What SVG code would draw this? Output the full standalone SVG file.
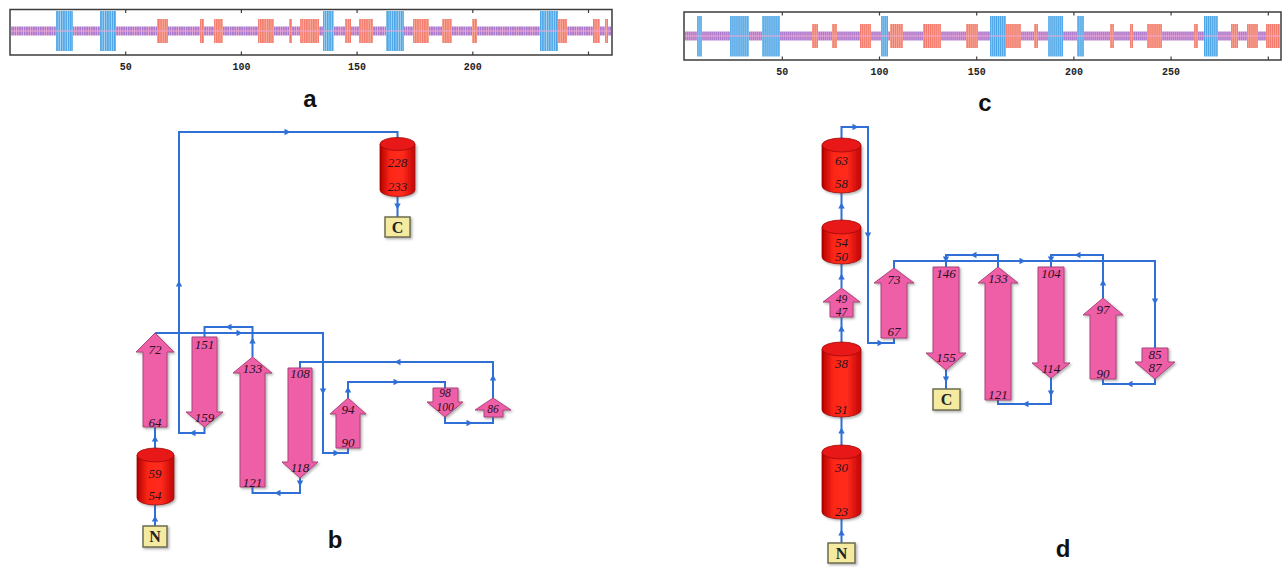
<svg xmlns="http://www.w3.org/2000/svg" xmlns:xlink="http://www.w3.org/1999/xlink" width="1285" height="567" viewBox="0 0 1285 567">
  <style>
    .frame { fill: #ffffff; stroke: #3c3c3c; stroke-width: 1.5; }
    .tick { stroke: #3c3c3c; stroke-width: 1.2; }
    .ticklbl { font-family: "Liberation Mono", monospace; font-weight: bold; font-size: 10px; fill: #222; text-anchor: middle; }
    .panel { font-family: "Liberation Sans", Arial, sans-serif; font-weight: bold; font-size: 24px; fill: #111; text-anchor: middle; }
    .strand { fill: #ef5fa8; stroke: #a9457a; stroke-width: 1; filter: url(#shadow); }
    .helix { fill: url(#cyl); stroke: #9a0a0a; stroke-width: 0.8; filter: url(#shadow); }
    .cap { fill: #e81818; stroke: #a00808; stroke-width: 0.8; }
    .term { fill: #f4eaa0; stroke: #6e6e50; stroke-width: 1.5; filter: url(#shadow); }
    .termlbl { font-family: "Liberation Serif", "Times New Roman", serif; font-weight: bold; font-size: 16px; fill: #222; text-anchor: middle; }
    .num { font-family: "Liberation Serif", "Times New Roman", serif; font-style: italic; font-size: 13px; fill: #2a1020; text-anchor: middle; }
    .num.small { font-size: 11.5px; }
    .link { fill: none; stroke: #2f6fd6; stroke-width: 2; stroke-linejoin: miter; }
    .ah { fill: #2f6fd6; }
    .midline { stroke: #f2a6d4; stroke-width: 1; }
  </style>
  <defs>
    <filter id="shadow" x="-20%" y="-20%" width="150%" height="150%">
      <feDropShadow dx="1.5" dy="1.5" stdDeviation="1" flood-color="#555" flood-opacity="0.45"/>
    </filter>
    <linearGradient id="cyl" x1="0" y1="0" x2="1" y2="0">
      <stop offset="0" stop-color="#b40000"/>
      <stop offset="0.3" stop-color="#ff2818"/>
      <stop offset="0.65" stop-color="#ff2a1c"/>
      <stop offset="1" stop-color="#c00404"/>
    </linearGradient>
    <!-- residue stripes, track a (2.314 px per residue) -->
    <pattern id="coilA" patternUnits="userSpaceOnUse" x="10" y="0" width="2.314" height="60">
      <rect width="2.314" height="60" fill="#e9b0dc"/>
      <rect width="1.6" height="60" fill="#a879cc"/>
    </pattern>
    <pattern id="helA" patternUnits="userSpaceOnUse" x="10" y="0" width="2.314" height="60">
      <rect width="2.314" height="60" fill="#f8ad9c"/>
      <rect width="1.3" height="60" fill="#f27a6c"/>
    </pattern>
    <pattern id="strA" patternUnits="userSpaceOnUse" x="10" y="0" width="2.314" height="60">
      <rect width="2.314" height="60" fill="#a8d4f2"/>
      <rect width="1.4" height="60" fill="#4aa4e6"/>
    </pattern>
    <!-- residue stripes, track c (1.944 px per residue) -->
    <pattern id="coilC" patternUnits="userSpaceOnUse" x="685" y="0" width="1.944" height="60">
      <rect width="1.944" height="60" fill="#e9b0dc"/>
      <rect width="1.35" height="60" fill="#a879cc"/>
    </pattern>
    <pattern id="helC" patternUnits="userSpaceOnUse" x="685" y="0" width="1.944" height="60">
      <rect width="1.944" height="60" fill="#f8ad9c"/>
      <rect width="1.1" height="60" fill="#f27a6c"/>
    </pattern>
    <pattern id="strC" patternUnits="userSpaceOnUse" x="685" y="0" width="1.944" height="60">
      <rect width="1.944" height="60" fill="#a8d4f2"/>
      <rect width="1.2" height="60" fill="#4aa4e6"/>
    </pattern>
    <path id="ah" d="M-3.5,-3.2 L2.5,0 L-3.5,3.2 Z"/>
  </defs>

  <rect width="1285" height="567" fill="#ffffff"/>

  <!-- ===== Track a ===== -->
  <g id="track-a">
    <rect class="frame" x="10" y="9.5" width="602" height="45.5"/>
    <rect x="11" y="26.5" width="600" height="9" fill="url(#coilA)"/>
    <g fill="url(#helA)">
      <rect x="157" y="19" width="11" height="24"/>
      <rect x="200" y="19" width="4" height="24"/>
      <rect x="214" y="19" width="9" height="24"/>
      <rect x="258" y="19" width="16" height="24"/>
      <rect x="289" y="19" width="3" height="24"/>
      <rect x="300" y="19" width="19" height="24"/>
      <rect x="345" y="19" width="6" height="24"/>
      <rect x="359" y="19" width="14" height="24"/>
      <rect x="413" y="19" width="16" height="24"/>
      <rect x="442" y="19" width="10" height="24"/>
      <rect x="472" y="19" width="5" height="24"/>
      <rect x="558" y="19" width="9" height="24"/>
      <rect x="593" y="19" width="7" height="24"/>
      <rect x="605" y="19" width="3" height="24"/>
    </g>
    <g fill="url(#strA)">
      <rect x="56" y="11" width="17" height="40"/>
      <rect x="100" y="11" width="16" height="40"/>
      <rect x="323" y="11" width="11" height="40"/>
      <rect x="386" y="11" width="18" height="40"/>
      <rect x="540" y="11" width="18" height="40"/>
    </g>
    <line class="midline" x1="11" y1="31" x2="611" y2="31"/>
    <g class="tick">
      <line x1="125.7" y1="9.5" x2="125.7" y2="13"/><line x1="125.7" y1="55" x2="125.7" y2="51.5"/>
      <line x1="241.4" y1="9.5" x2="241.4" y2="13"/><line x1="241.4" y1="55" x2="241.4" y2="51.5"/>
      <line x1="357.1" y1="9.5" x2="357.1" y2="13"/><line x1="357.1" y1="55" x2="357.1" y2="51.5"/>
      <line x1="472.8" y1="9.5" x2="472.8" y2="13"/><line x1="472.8" y1="55" x2="472.8" y2="51.5"/>
      <line x1="588.5" y1="9.5" x2="588.5" y2="13"/><line x1="588.5" y1="55" x2="588.5" y2="51.5"/>
    </g>
    <text class="ticklbl" x="125.7" y="70">50</text>
    <text class="ticklbl" x="241.4" y="70">100</text>
    <text class="ticklbl" x="357.1" y="70">150</text>
    <text class="ticklbl" x="472.8" y="70">200</text>
  </g>
  <text class="panel" x="310" y="107">a</text>

  <!-- ===== Track c ===== -->
  <g id="track-c">
    <rect class="frame" x="684" y="12" width="597" height="48"/>
    <rect x="685" y="31.5" width="595" height="9" fill="url(#coilC)"/>
    <g fill="url(#helC)">
      <rect x="812" y="24" width="6" height="24"/>
      <rect x="832" y="24" width="5" height="24"/>
      <rect x="860" y="24" width="11" height="24"/>
      <rect x="890" y="24" width="13" height="24"/>
      <rect x="923" y="24" width="18" height="24"/>
      <rect x="966" y="24" width="12" height="24"/>
      <rect x="1006" y="24" width="15" height="24"/>
      <rect x="1034" y="24" width="4" height="24"/>
      <rect x="1110" y="24" width="4" height="24"/>
      <rect x="1130" y="24" width="3" height="24"/>
      <rect x="1147" y="24" width="15" height="24"/>
      <rect x="1194" y="24" width="4" height="24"/>
      <rect x="1231" y="24" width="7" height="24"/>
      <rect x="1247" y="24" width="11" height="24"/>
      <rect x="1266" y="24" width="14" height="24"/>
    </g>
    <g fill="url(#strC)">
      <rect x="697" y="16" width="5" height="40.5"/>
      <rect x="730" y="16" width="19" height="40.5"/>
      <rect x="762" y="16" width="18" height="40.5"/>
      <rect x="881" y="16" width="7" height="40.5"/>
      <rect x="990" y="16" width="16" height="40.5"/>
      <rect x="1048" y="16" width="15" height="40.5"/>
      <rect x="1077" y="16" width="7" height="40.5"/>
      <rect x="1204" y="16" width="14" height="40.5"/>
    </g>
    <line class="midline" x1="685" y1="36" x2="1280" y2="36"/>
    <g class="tick">
      <line x1="782.3" y1="12" x2="782.3" y2="15.5"/><line x1="782.3" y1="60" x2="782.3" y2="56.5"/>
      <line x1="879.5" y1="12" x2="879.5" y2="15.5"/><line x1="879.5" y1="60" x2="879.5" y2="56.5"/>
      <line x1="976.7" y1="12" x2="976.7" y2="15.5"/><line x1="976.7" y1="60" x2="976.7" y2="56.5"/>
      <line x1="1073.9" y1="12" x2="1073.9" y2="15.5"/><line x1="1073.9" y1="60" x2="1073.9" y2="56.5"/>
      <line x1="1171.1" y1="12" x2="1171.1" y2="15.5"/><line x1="1171.1" y1="60" x2="1171.1" y2="56.5"/>
      <line x1="1268.3" y1="12" x2="1268.3" y2="15.5"/><line x1="1268.3" y1="60" x2="1268.3" y2="56.5"/>
    </g>
    <text class="ticklbl" x="782.3" y="74.5">50</text>
    <text class="ticklbl" x="879.5" y="74.5">100</text>
    <text class="ticklbl" x="976.7" y="74.5">150</text>
    <text class="ticklbl" x="1073.9" y="74.5">200</text>
    <text class="ticklbl" x="1171.1" y="74.5">250</text>
  </g>
  <text class="panel" x="985" y="111">c</text>

  <!-- ===== Topology b: connectors ===== -->
  <g id="links-b">
    <path class="link" d="M155,526 L155,505"/>
    <path class="link" d="M155,448 L155,427"/>
    <path class="link" d="M155,333 L323,333 L323,453 L348,453 L348,448"/>
    <path class="link" d="M348,398 L348,382 L445,382 L445,388"/>
    <path class="link" d="M445,417 L445,423 L493,423 L493,417"/>
    <path class="link" d="M493,398 L493,362 L300,362 L300,368"/>
    <path class="link" d="M300,478 L300,493 L252.5,493 L252.5,487"/>
    <path class="link" d="M252.5,357 L252.5,327 L204.5,327 L204.5,337"/>
    <path class="link" d="M204.5,427 L204.5,433 L179,433 L179,132 L397.5,132 L397.5,138"/>
    <path class="link" d="M397.5,196 L397.5,217"/>
    <g class="ah">
      <use xlink:href="#ah" transform="translate(155,518) rotate(-90)"/>
      <use xlink:href="#ah" transform="translate(155,438) rotate(-90)"/>
      <use xlink:href="#ah" transform="translate(240,333)"/>
      <use xlink:href="#ah" transform="translate(323,392) rotate(90)"/>
      <use xlink:href="#ah" transform="translate(337,453)"/>
      <use xlink:href="#ah" transform="translate(348,389) rotate(-90)"/>
      <use xlink:href="#ah" transform="translate(397,382)"/>
      <use xlink:href="#ah" transform="translate(470,423)"/>
      <use xlink:href="#ah" transform="translate(493,377) rotate(-90)"/>
      <use xlink:href="#ah" transform="translate(397,362) rotate(180)"/>
      <use xlink:href="#ah" transform="translate(300,484) rotate(90)"/>
      <use xlink:href="#ah" transform="translate(277,493) rotate(180)"/>
      <use xlink:href="#ah" transform="translate(252.5,340) rotate(-90)"/>
      <use xlink:href="#ah" transform="translate(228,327) rotate(180)"/>
      <use xlink:href="#ah" transform="translate(192,433) rotate(180)"/>
      <use xlink:href="#ah" transform="translate(179,283) rotate(-90)"/>
      <use xlink:href="#ah" transform="translate(288,132)"/>
      <use xlink:href="#ah" transform="translate(397.5,207) rotate(90)"/>
    </g>
  </g>

  <!-- ===== Topology b: elements ===== -->
  <g id="b-N">
    <rect class="term" x="143" y="526" width="24" height="21"/>
    <text class="termlbl" x="155" y="542">N</text>
  </g>
  <g id="b-H54-59">
    <path class="helix" d="M137,455 L137,498 A18.5,7 0 0 0 174,498 L174,455 Z"/>
    <ellipse class="cap" cx="155.5" cy="455" rx="18.5" ry="7"/>
    <text class="num" x="155" y="477.5">59</text>
    <text class="num" x="155" y="500">54</text>
  </g>
  <g id="b-E64-72">
    <polygon class="strand" points="143,427 143,352 136,352 155,333 174,352 167,352 167,427"/>
    <text class="num" x="155" y="353.5">72</text>
    <text class="num" x="155" y="427">64</text>
  </g>
  <g id="b-E151-159">
    <polygon class="strand" points="192,337 217,337 217,412 223,412 204.5,427 186,412 192,412"/>
    <text class="num" x="204.5" y="348.5">151</text>
    <text class="num" x="204.5" y="421.5">159</text>
  </g>
  <g id="b-E121-133">
    <polygon class="strand" points="240,487 240,373 233,373 252.5,357 272,373 265,373 265,487"/>
    <text class="num" x="252.5" y="372.5">133</text>
    <text class="num" x="252.5" y="487">121</text>
  </g>
  <g id="b-E108-118">
    <polygon class="strand" points="288,368 312,368 312,462 318,462 300,478 282,462 288,462"/>
    <text class="num" x="300" y="377.5">108</text>
    <text class="num" x="300" y="471.5">118</text>
  </g>
  <g id="b-E90-94">
    <polygon class="strand" points="336,448 336,414 330,414 348,398 366,414 360,414 360,448"/>
    <text class="num" x="348" y="413.5">94</text>
    <text class="num" x="348" y="446.5">90</text>
  </g>
  <g id="b-E98-100">
    <polygon class="strand" points="433,388 458,388 458,402 463,402 445,417 427,402 433,402"/>
    <text class="num small" x="445" y="397">98</text>
    <text class="num small" x="445" y="410.5">100</text>
  </g>
  <g id="b-E86">
    <polygon class="strand" points="484,417 484,410 475,410 493,398 511,410 503,410 503,417"/>
    <text class="num small" x="493" y="413">86</text>
  </g>
  <g id="b-H228-233">
    <path class="helix" d="M380,144 L380,190 A17.5,6.5 0 0 0 415,190 L415,144 Z"/>
    <ellipse class="cap" cx="397.5" cy="144" rx="17.5" ry="6.5"/>
    <text class="num" x="397.5" y="167">228</text>
    <text class="num" x="397.5" y="190.5">233</text>
  </g>
  <g id="b-C">
    <rect class="term" x="385" y="217" width="25" height="20"/>
    <text class="termlbl" x="397.5" y="232.5">C</text>
  </g>
  <text class="panel" x="335" y="548">b</text>

  <!-- ===== Topology d: connectors ===== -->
  <g id="links-d">
    <path class="link" d="M841.5,543 L841.5,519"/>
    <path class="link" d="M841.5,445 L841.5,417"/>
    <path class="link" d="M841.5,342 L841.5,317"/>
    <path class="link" d="M841.5,288 L841.5,264"/>
    <path class="link" d="M841.5,220 L841.5,193"/>
    <path class="link" d="M841.5,138 L841.5,127 L868,127 L868,343 L894,343 L894,338"/>
    <path class="link" d="M894,268 L894,261 L1155,261 L1155,348"/>
    <path class="link" d="M1155,379 L1155,384 L1103,384 L1103,379"/>
    <path class="link" d="M1103,298 L1103,255 L1051,255 L1051,267"/>
    <path class="link" d="M1051,378 L1051,404 L998,404 L998,400"/>
    <path class="link" d="M998,267 L998,255 L946,255 L946,267"/>
    <path class="link" d="M946,370 L946,389"/>
    <g class="ah">
      <use xlink:href="#ah" transform="translate(841.5,532) rotate(-90)"/>
      <use xlink:href="#ah" transform="translate(841.5,430) rotate(-90)"/>
      <use xlink:href="#ah" transform="translate(841.5,328) rotate(-90)"/>
      <use xlink:href="#ah" transform="translate(841.5,276) rotate(-90)"/>
      <use xlink:href="#ah" transform="translate(841.5,205) rotate(-90)"/>
      <use xlink:href="#ah" transform="translate(856,127)"/>
      <use xlink:href="#ah" transform="translate(868,236) rotate(90)"/>
      <use xlink:href="#ah" transform="translate(881,343)"/>
      <use xlink:href="#ah" transform="translate(1023,261)"/>
      <use xlink:href="#ah" transform="translate(1155,302) rotate(90)"/>
      <use xlink:href="#ah" transform="translate(1129,384) rotate(180)"/>
      <use xlink:href="#ah" transform="translate(1103,282) rotate(-90)"/>
      <use xlink:href="#ah" transform="translate(1077,255) rotate(180)"/>
      <use xlink:href="#ah" transform="translate(1051,260) rotate(90)"/>
      <use xlink:href="#ah" transform="translate(1051,394) rotate(90)"/>
      <use xlink:href="#ah" transform="translate(1025,404) rotate(180)"/>
      <use xlink:href="#ah" transform="translate(973,255) rotate(180)"/>
      <use xlink:href="#ah" transform="translate(946,260) rotate(90)"/>
      <use xlink:href="#ah" transform="translate(946,380) rotate(90)"/>
    </g>
  </g>

  <!-- ===== Topology d: elements ===== -->
  <g id="d-N">
    <rect class="term" x="828" y="543" width="27" height="20"/>
    <text class="termlbl" x="841.5" y="559">N</text>
  </g>
  <g id="d-H23-30">
    <path class="helix" d="M822,452 L822,512 A19.5,7 0 0 0 861,512 L861,452 Z"/>
    <ellipse class="cap" cx="841.5" cy="452" rx="19.5" ry="7"/>
    <text class="num" x="841.5" y="471.5">30</text>
    <text class="num" x="841.5" y="516">23</text>
  </g>
  <g id="d-H31-38">
    <path class="helix" d="M822,349 L822,410 A19.5,7 0 0 0 861,410 L861,349 Z"/>
    <ellipse class="cap" cx="841.5" cy="349" rx="19.5" ry="7"/>
    <text class="num" x="841.5" y="367.5">38</text>
    <text class="num" x="841.5" y="414">31</text>
  </g>
  <g id="d-E47-49">
    <polygon class="strand" points="830,317 830,302 823,302 841.5,288 860,302 853,302 853,317"/>
    <text class="num small" x="841.5" y="302.5">49</text>
    <text class="num small" x="841.5" y="315.5">47</text>
  </g>
  <g id="d-H50-54">
    <path class="helix" d="M822,227 L822,257 A19.5,7 0 0 0 861,257 L861,227 Z"/>
    <ellipse class="cap" cx="841.5" cy="227" rx="19.5" ry="7"/>
    <text class="num" x="841.5" y="246.5">54</text>
    <text class="num" x="841.5" y="261">50</text>
  </g>
  <g id="d-H58-63">
    <path class="helix" d="M822,145 L822,186 A19.5,7 0 0 0 861,186 L861,145 Z"/>
    <ellipse class="cap" cx="841.5" cy="145" rx="19.5" ry="7"/>
    <text class="num" x="841.5" y="164.5">63</text>
    <text class="num" x="841.5" y="187.5">58</text>
  </g>
  <g id="d-E67-73">
    <polygon class="strand" points="881,338 881,283 874,283 894,268 914,283 907,283 907,338"/>
    <text class="num" x="894" y="283.5">73</text>
    <text class="num" x="894" y="336">67</text>
  </g>
  <g id="d-E146-155">
    <polygon class="strand" points="933,267 959,267 959,353 966,353 946,370 926,353 933,353"/>
    <text class="num" x="946" y="277.5">146</text>
    <text class="num" x="946" y="361.5">155</text>
  </g>
  <g id="d-C">
    <rect class="term" x="933" y="389" width="27" height="21"/>
    <text class="termlbl" x="946.5" y="405">C</text>
  </g>
  <g id="d-E121-133">
    <polygon class="strand" points="985,400 985,283 978,283 998,267 1018,283 1011,283 1011,400"/>
    <text class="num" x="998" y="282.5">133</text>
    <text class="num" x="998" y="398.5">121</text>
  </g>
  <g id="d-E104-114">
    <polygon class="strand" points="1038,267 1064,267 1064,363 1070,363 1051,378 1032,363 1038,363"/>
    <text class="num" x="1051" y="277.5">104</text>
    <text class="num" x="1051" y="372.5">114</text>
  </g>
  <g id="d-E90-97">
    <polygon class="strand" points="1090,379 1090,315 1083,315 1103,298 1123,315 1116,315 1116,379"/>
    <text class="num" x="1103" y="313.5">97</text>
    <text class="num" x="1103" y="377.5">90</text>
  </g>
  <g id="d-E85-87">
    <polygon class="strand" points="1142,348 1168,348 1168,362 1175,362 1155,379 1135,362 1142,362"/>
    <text class="num" x="1155" y="359">85</text>
    <text class="num" x="1155" y="371.5">87</text>
  </g>
  <text class="panel" x="1063" y="557">d</text>
</svg>
